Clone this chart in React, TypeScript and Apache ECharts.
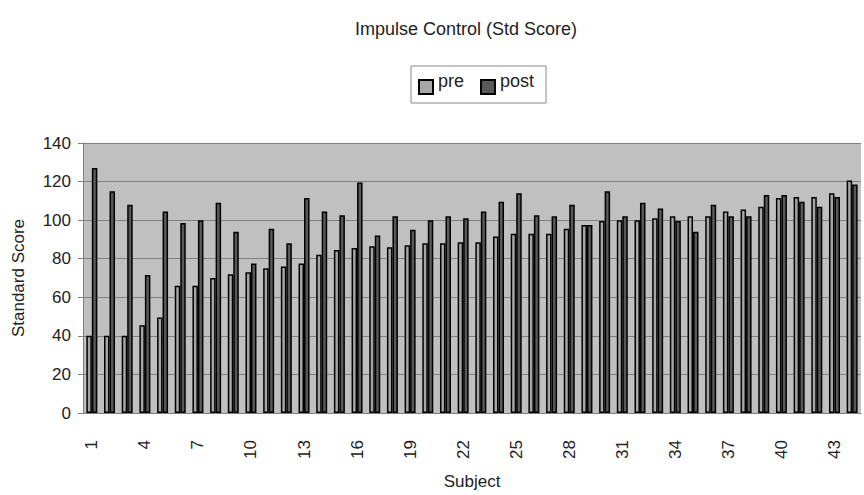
import React, { useEffect, useRef } from "react";
import * as echarts from "echarts";

const subjects = [
  "1","2","3","4","5","6","7","8","9","10","11","12","13","14","15","16","17","18","19","20","21","22",
  "23","24","25","26","27","28","29","30","31","32","33","34","35","36","37","38","39","40","41","42","43","44",
];

const pre = [
  40, 40, 40, 45.5, 49.5, 66, 66, 70, 72, 73,
  75, 76, 77.5, 82, 84.5, 85.5, 86.5, 86, 87, 88,
  88,
  88.5, 88.5, 91.5, 93, 93, 93, 95.5, 97.5, 99.5, 100,
  100, 101, 102, 102, 102, 104.5, 105.5, 107, 111.5, 112, 112, 114, 120.5,
];

const post = [
  127, 115, 108, 71.5, 104.5, 98.5, 100, 109, 94, 77.5,
  95.5, 88, 111.5, 104.5, 102.5, 119.5, 92, 102, 95, 100,
  102,
  101, 104.5, 109.5, 114, 102.5, 102, 108, 97.5, 115, 102,
  109, 106, 99.5, 94, 108, 102, 102, 113, 113, 109.5, 107, 112, 118.5,
];

const yTicks = { min: 0, max: 140, interval: 20 };

const FONT = "'Liberation Sans', Arial, Helvetica, sans-serif";
const TEXT = "#222222";

export default function App() {
  const ref = useRef<HTMLDivElement>(null);

  useEffect(() => {
    document.body.style.margin = "0";
    if (!ref.current) return;
    const chart = echarts.init(ref.current, undefined, { renderer: "svg" });
    chart.setOption({
      animation: false,
      backgroundColor: "#ffffff",
      textStyle: { fontFamily: FONT },
      title: {
        text: "Impulse Control (Std Score)",
        left: 350,
        top: 15,
        textStyle: { fontFamily: FONT, fontSize: 18, fontWeight: "normal", color: TEXT },
      },
      legend: {
        data: ["pre", "post"],
        left: 411,
        top: 66,
        orient: "horizontal",
        backgroundColor: "#ffffff",
        borderColor: "#888888",
        borderWidth: 1,
        padding: [6, 12, 8, 7],
        itemWidth: 14,
        itemHeight: 14,
        itemGap: 16,
        icon: "rect",
        formatter: "{t|{name}}",
        textStyle: {
          fontFamily: FONT,
          fontSize: 18,
          color: TEXT,
          rich: {
            t: { fontFamily: FONT, fontSize: 18, color: TEXT, padding: [0, 0, 12, 0] },
          },
        },
      },
      grid: {
        left: 83,
        right: 3,
        top: 143,
        bottom: 79,
        show: true,
        backgroundColor: "#c0c0c0",
        borderWidth: 0,
      },
      xAxis: {
        type: "category",
        data: subjects,
        name: "Subject",
        nameLocation: "middle",
        nameGap: 60,
        nameTextStyle: { fontFamily: FONT, fontSize: 17, color: TEXT },
        axisLine: { lineStyle: { color: "#808080", width: 1 } },
        axisTick: { interval: 0, length: 5, lineStyle: { color: "#808080" } },
        axisLabel: { interval: 2, rotate: 90, margin: 27, fontSize: 17, color: TEXT, fontFamily: FONT },
      },
      yAxis: {
        type: "value",
        min: yTicks.min,
        max: yTicks.max,
        interval: yTicks.interval,
        name: "Standard Score",
        nameLocation: "middle",
        nameGap: 56,
        nameTextStyle: { fontFamily: FONT, fontSize: 17, color: TEXT },
        axisLine: { show: true, lineStyle: { color: "#808080", width: 1 } },
        axisTick: { show: true, length: 5, lineStyle: { color: "#808080" } },
        axisLabel: { margin: 12, fontSize: 17, color: TEXT, fontFamily: FONT },
        splitLine: { show: true, lineStyle: { color: "#808080", width: 1 } },
      },
      series: [
        {
          type: "bar",
          name: "pre",
          data: pre,
          barWidth: 5.5,
          barGap: "0%",
          itemStyle: { color: "#a6a6a6", borderColor: "#000000", borderWidth: 1.5 },
        },
        {
          type: "bar",
          name: "post",
          data: post,
          barWidth: 5.5,
          barGap: "0%",
          itemStyle: { color: "#595959", borderColor: "#000000", borderWidth: 1.5 },
        },
      ],
    });
    return () => chart.dispose();
  }, []);

  return <div ref={ref} style={{ width: 864, height: 495 }} />;
}
